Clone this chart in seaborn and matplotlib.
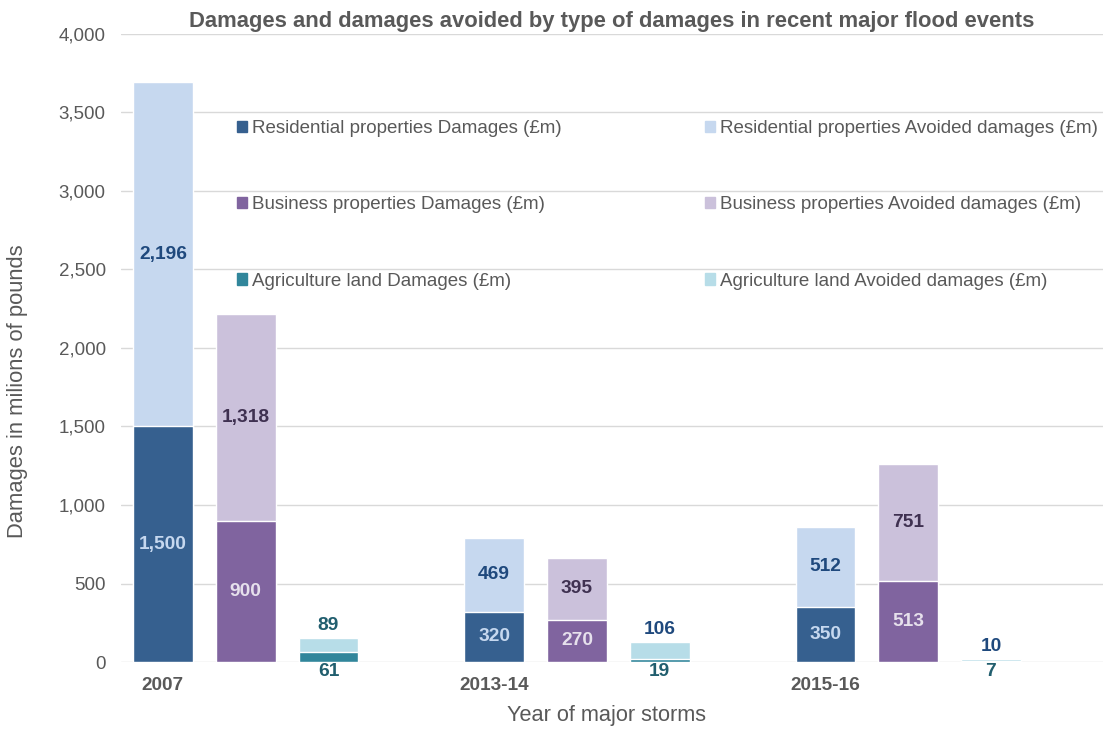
import numpy as np
import pandas as pd
import matplotlib
matplotlib.use("Agg")
import matplotlib.pyplot as plt
from matplotlib.patches import Patch
from matplotlib.ticker import FuncFormatter
import seaborn as sns

years = ["2007", "2013-14", "2015-16"]
res_damages = [1500, 320, 350]
res_avoided = [2196, 469, 512]
bus_damages = [900, 270, 513]
bus_avoided = [1318, 395, 751]
agr_damages = [61, 19, 7]
agr_avoided = [89, 106, 10]

kinds = ["Residential properties", "Business properties", "Agriculture land"]
dark = {"Residential properties": "#36608f", "Business properties": "#80649f", "Agriculture land": "#31869b"}
light = {"Residential properties": "#c6d8ef", "Business properties": "#cbc1db", "Agriculture land": "#b7dde8"}
lab_on_dark = {"Residential properties": "#c6d8ef", "Business properties": "#e6e0ec", "Agriculture land": "#215e6e"}
lab_on_light = {"Residential properties": "#1f497d", "Business properties": "#3f3151", "Agriculture land": "#1f497d"}

rows = []
damages = [res_damages, bus_damages, agr_damages]
avoided = [res_avoided, bus_avoided, agr_avoided]
for gi, yr in enumerate(years):
    for ki, kind in enumerate(kinds):
        d = damages[ki][gi]
        a = avoided[ki][gi]
        rows.append({"year": yr, "kind": kind, "pos": gi * 4 + ki,
                     "damages": d, "avoided": a, "total": d + a})
df = pd.DataFrame(rows)

sns.set_style("white")
plt.rcParams["font.family"] = ["Liberation Sans", "DejaVu Sans"]
grey = "#595959"

fig, ax = plt.subplots(figsize=(11.05, 7.29), dpi=100)
fig.subplots_adjust(left=0.1095, right=0.998, bottom=0.0919, top=0.9534)

sns.barplot(data=df, x="pos", y="total", hue="kind", palette=light, native_scale=True,
            width=0.72, dodge=False, legend=False, saturation=1, ax=ax, zorder=3)
sns.barplot(data=df, x="pos", y="damages", hue="kind", palette=dark, native_scale=True,
            width=0.72, dodge=False, legend=False, saturation=1, ax=ax, zorder=3)

for _, r in df.iterrows():
    if r["kind"] == "Agriculture land":
        c_top = "#215e6e" if r["year"] == "2007" else lab_on_light[r["kind"]]
        ax.annotate(f"{r['avoided']:,}", (r["pos"], r["total"]), xytext=(0, 3),
                    textcoords="offset points", ha="center", va="bottom",
                    fontsize=13.8, fontweight="bold", color=c_top, zorder=5)
        ax.annotate(f"{r['damages']:,}", (r["pos"], 0), xytext=(0, -1),
                    textcoords="offset points", ha="center", va="top",
                    fontsize=13.8, fontweight="bold", color=lab_on_dark[r["kind"]], zorder=5)
    else:
        ax.text(r["pos"], r["damages"] / 2, f"{r['damages']:,}", ha="center", va="center",
                fontsize=13.8, fontweight="bold", color=lab_on_dark[r["kind"]], zorder=5)
        ax.text(r["pos"], r["damages"] + r["avoided"] / 2, f"{r['avoided']:,}", ha="center",
                va="center", fontsize=13.8, fontweight="bold", color=lab_on_light[r["kind"]], zorder=5)

ax.set_ylim(0, 4000)
ax.set_yticks(np.arange(0, 4001, 500))
ax.yaxis.set_major_formatter(FuncFormatter(lambda v, p: f"{int(v):,}"))
ax.set_xlim(-0.506, 11.35)
ax.set_xticks([0, 4, 8])
ax.set_xticklabels(years, fontweight="bold")
ax.tick_params(axis="x", length=0, pad=11, labelsize=13.7, labelcolor=grey)
ax.tick_params(axis="y", length=0, pad=11, labelsize=13.5, labelcolor=grey)
ax.grid(axis="y", color="#d9d9d9", linewidth=1, zorder=0)
ax.set_axisbelow(True)
for s in ax.spines.values():
    s.set_visible(False)

ax.set_title("Damages and damages avoided by type of damages in recent major flood events",
             fontsize=15.8, fontweight="bold", color=grey, pad=5)
ax.set_xlabel("Year of major storms", fontsize=15.7, color=grey)
ax.set_ylabel("Damages in milions of pounds", fontsize=15.8, color=grey)
ax.xaxis.set_label_coords(0.495, -0.068)
ax.yaxis.set_label_coords(-0.0945, 0.431)

handles = [Patch(color=dark[k]) for k in kinds] + [Patch(color=light[k]) for k in kinds]
labels = [f"{k} Damages (£m)" for k in kinds] + [f"{k} Avoided damages (£m)" for k in kinds]
ax.legend(handles, labels, ncol=2, loc="upper left", bbox_to_anchor=(0.118, 0.863, 0.877, 0.0),
          mode="expand", frameon=False, fontsize=13.5, labelcolor=grey, handlelength=0.55,
          handleheight=0.55, handletextpad=0.25, labelspacing=3.16, borderaxespad=0, borderpad=0)

fig.savefig("out.png", dpi=100)
